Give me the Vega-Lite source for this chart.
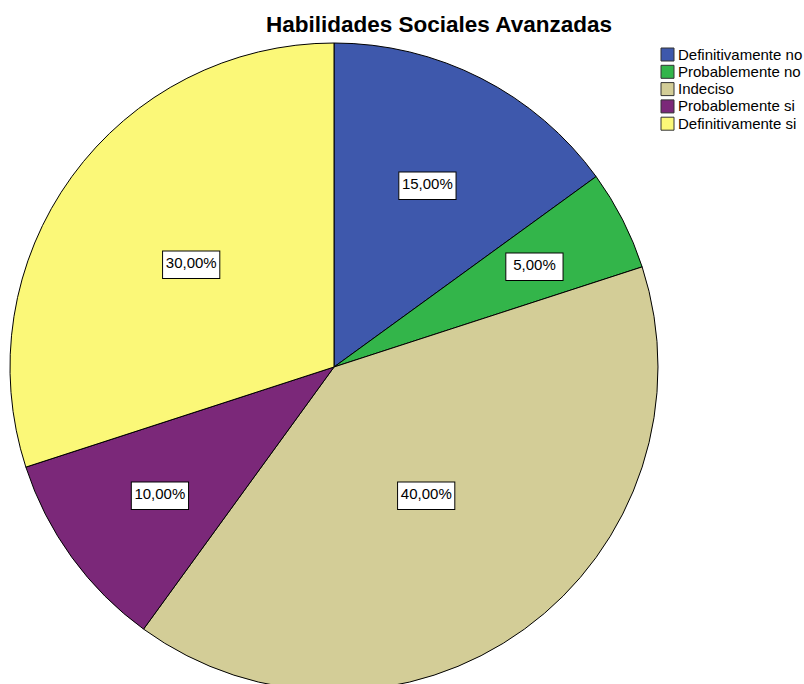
{
  "$schema": "https://vega.github.io/schema/vega-lite/v6.json",
  "autosize": "none",
  "width": 648,
  "height": 648,
  "padding": {"left": 10, "top": 43, "right": 146, "bottom": 0},
  "background": "#ffffff",
  "config": {
    "view": {"stroke": null},
    "locale": {"number": {"decimal": ",", "thousands": ".", "grouping": [3], "currency": ["", " €"]}}
  },
  "title": {
    "text": "Habilidades Sociales Avanzadas",
    "font": "Liberation Sans",
    "fontSize": 22.5,
    "fontWeight": "bold",
    "color": "#000000",
    "anchor": "middle",
    "dx": 105,
    "offset": 5
  },
  "data": {
    "values": [
      {"respuesta": "Definitivamente no", "orden": 1, "porcentaje": 0.15},
      {"respuesta": "Probablemente no", "orden": 2, "porcentaje": 0.05},
      {"respuesta": "Indeciso", "orden": 3, "porcentaje": 0.40},
      {"respuesta": "Probablemente si", "orden": 4, "porcentaje": 0.10},
      {"respuesta": "Definitivamente si", "orden": 5, "porcentaje": 0.30}
    ]
  },
  "encoding": {
    "theta": {"field": "porcentaje", "type": "quantitative", "stack": true},
    "order": {"field": "orden", "type": "quantitative"}
  },
  "layer": [
    {
      "mark": {"type": "arc", "outerRadius": 324, "stroke": "#000000", "strokeWidth": 1},
      "encoding": {
        "color": {
          "field": "respuesta",
          "type": "nominal",
          "sort": ["Definitivamente no", "Probablemente no", "Indeciso", "Probablemente si", "Definitivamente si"],
          "scale": {
            "domain": ["Definitivamente no", "Probablemente no", "Indeciso", "Probablemente si", "Definitivamente si"],
            "range": ["#3e58ac", "#33b54a", "#d3cd97", "#7b2879", "#fbf878"]
          },
          "legend": {
            "title": null,
            "orient": "none",
            "legendX": 650,
            "legendY": 4,
            "symbolType": "square",
            "symbolSize": 169,
            "symbolStrokeColor": "#333333",
            "symbolStrokeWidth": 1,
            "symbolOpacity": 1,
            "labelFont": "Liberation Sans",
            "labelFontSize": 15,
            "labelColor": "#000000",
            "labelOffset": 3,
            "rowPadding": 0.3
          }
        }
      }
    },
    {
      "mark": {"type": "text", "text": "▬", "font": "DejaVu Serif", "fontSize": 75, "fill": "#ffffff", "stroke": "#000000", "strokeWidth": 1, "dy": -2},
      "encoding": {
        "radius": {"field": "porcentaje", "type": "quantitative", "scale": {"type": "linear", "zero": false, "domain": [0.05, 0.40], "range": [225, 157]}}
      }
    },
    {
      "mark": {"type": "text", "font": "Liberation Sans", "fontSize": 15, "color": "#000000"},
      "encoding": {
        "radius": {"field": "porcentaje", "type": "quantitative"},
        "text": {"field": "porcentaje", "type": "quantitative", "format": ".2%"}
      }
    }
  ]
}
